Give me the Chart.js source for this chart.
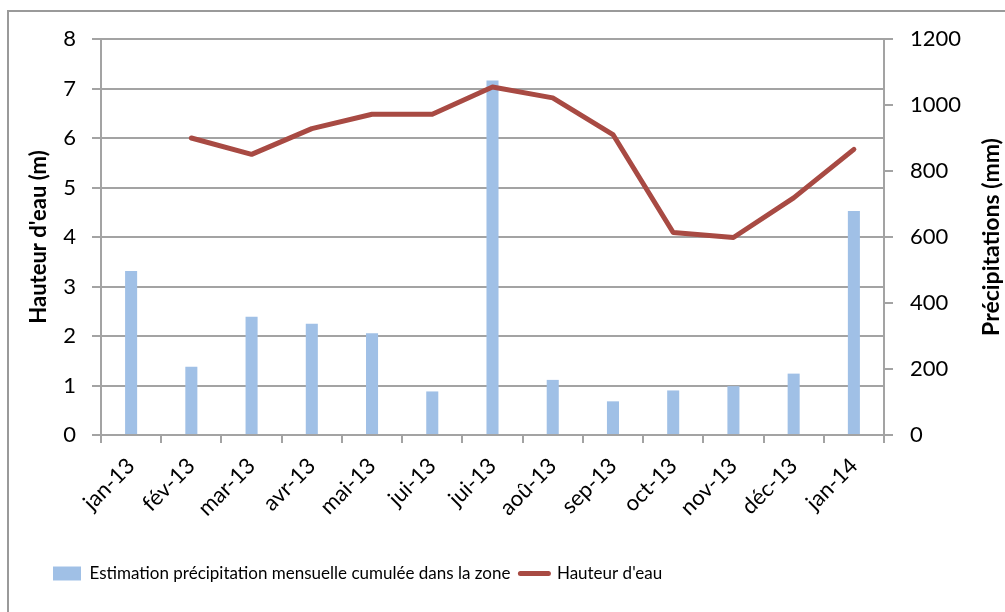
<!DOCTYPE html>
<html>
<head>
<meta charset="utf-8">
<script src="https://cdn.jsdelivr.net/npm/chart.js@4/dist/chart.umd.min.js"></script>
<style>
  html, body { margin: 0; padding: 0; background: #fff; }
  #wrap { width: 1005px; height: 612px; }
</style>
</head>
<body>
<div id="wrap"><canvas id="c" width="1005" height="612"></canvas></div>
<script>
const labels = ['jan-13', 'fév-13', 'mar-13', 'avr-13', 'mai-13', 'jui-13', 'jui-13', 'aoû-13', 'sep-13', 'oct-13', 'nov-13', 'déc-13', 'jan-14'];
const precipitations = [497, 207, 358, 337, 308, 132, 1074, 167, 102, 135, 148, 186, 679];
const hauteur = [null, 6.0, 5.67, 6.19, 6.48, 6.48, 7.03, 6.81, 6.07, 4.09, 3.99, 4.79, 5.77];
const leftTicks = [0, 8, 1];
const rightTicks = [0, 1200, 200];

const BAR_COLOR = '#A0C0E6';
const LINE_COLOR = '#A84A43';
const GRID = '#a3a3a3';
const FONT = "Lato, 'Open Sans', sans-serif";

Chart.defaults.font.family = FONT;
Chart.defaults.color = '#000';

const frame = {
  id: 'frame',
  beforeDraw(chart) {
    const ctx = chart.ctx;
    ctx.save();
    ctx.fillStyle = '#fff';
    ctx.fillRect(0, 0, chart.width, chart.height);
    ctx.strokeStyle = '#9a9a9a';
    ctx.lineWidth = 2;
    ctx.beginPath();
    ctx.moveTo(8, chart.height);
    ctx.lineTo(8, 11);
    ctx.lineTo(chart.width, 11);
    ctx.stroke();
    ctx.restore();
  },
  afterLayout(chart) {
    // Excel puts the legend on the left, not centred
    chart.legend.left = 43;
  },
  afterDraw(chart) {
    const ctx = chart.ctx;
    const a = chart.chartArea;
    ctx.save();
    ctx.translate(992, (a.top + a.bottom) / 2);
    ctx.rotate(-Math.PI / 2);
    ctx.font = 'bold 23px ' + FONT;
    ctx.fillStyle = '#000';
    ctx.textAlign = 'center';
    ctx.textBaseline = 'middle';
    ctx.fillText('Précipitations (mm)', 0, 0);
    ctx.restore();
  }
};

new Chart(document.getElementById('c'), {
  type: 'bar',
  data: {
    labels: labels,
    datasets: [{
      type: 'bar',
      label: 'Estimation précipitation mensuelle cumulée dans la zone',
      data: precipitations,
      backgroundColor: BAR_COLOR,
      yAxisID: 'y1',
      barPercentage: 0.2,
      categoryPercentage: 1.0,
      order: 1
    }, {
      type: 'line',
      label: "Hauteur d'eau",
      data: hauteur,
      borderColor: LINE_COLOR,
      borderWidth: 5,
      pointRadius: 0,
      tension: 0,
      borderCapStyle: 'round',
      borderJoinStyle: 'round',
      yAxisID: 'y',
      order: 0
    }]
  },
  options: {
    responsive: false,
    animation: false,
    layout: { padding: { left: 8, right: 0, top: 39, bottom: 20 } },
    plugins: {
      tooltip: { enabled: false },
      legend: {
        position: 'bottom',
        align: 'start',
        labels: {
          usePointStyle: true,
          pointStyleWidth: 28,
          boxWidth: 28,
          boxHeight: 14,
          padding: 10,
          font: { family: FONT, size: 17 },
          color: '#000',
          generateLabels() {
            return [{
              text: 'Estimation précipitation mensuelle cumulée dans la zone',
              fillStyle: BAR_COLOR, strokeStyle: BAR_COLOR, lineWidth: 0,
              pointStyle: 'rect', datasetIndex: 0, hidden: false
            }, {
              text: "Hauteur d'eau",
              fillStyle: LINE_COLOR, strokeStyle: LINE_COLOR, lineWidth: 5,
              lineCap: 'round', pointStyle: 'line', datasetIndex: 1, hidden: false
            }];
          }
        }
      }
    },
    scales: {
      x: {
        afterFit(s) { s.height = 120; },
        grid: { offset: true, drawOnChartArea: false, drawTicks: true, tickLength: 8, color: GRID, lineWidth: 2 },
        border: { color: GRID, width: 2 },
        ticks: { minRotation: 45, maxRotation: 45, padding: 10, font: { size: 22 } }
      },
      y: {
        position: 'left',
        min: leftTicks[0], max: leftTicks[1],
        afterFit(s) { s.width = 93; },
        ticks: { stepSize: leftTicks[2], padding: 16, font: { size: 22 } },
        grid: { color: GRID, lineWidth: 2, tickLength: 9 },
        border: { color: GRID, width: 2 },
        title: { display: true, text: "Hauteur d'eau (m)", font: { size: 22, weight: 'bold' }, padding: { top: 18, bottom: 0 } }
      },
      y1: {
        position: 'right',
        min: rightTicks[0], max: rightTicks[1],
        afterFit(s) { s.width = 121; },
        ticks: { stepSize: rightTicks[2], padding: 17, font: { size: 22 }, callback: v => String(v) },
        grid: { drawOnChartArea: false, color: GRID, lineWidth: 2, tickLength: 9 },
        border: { color: GRID, width: 2 }
      }
    }
  },
  plugins: [frame]
});
</script>
</body>
</html>
